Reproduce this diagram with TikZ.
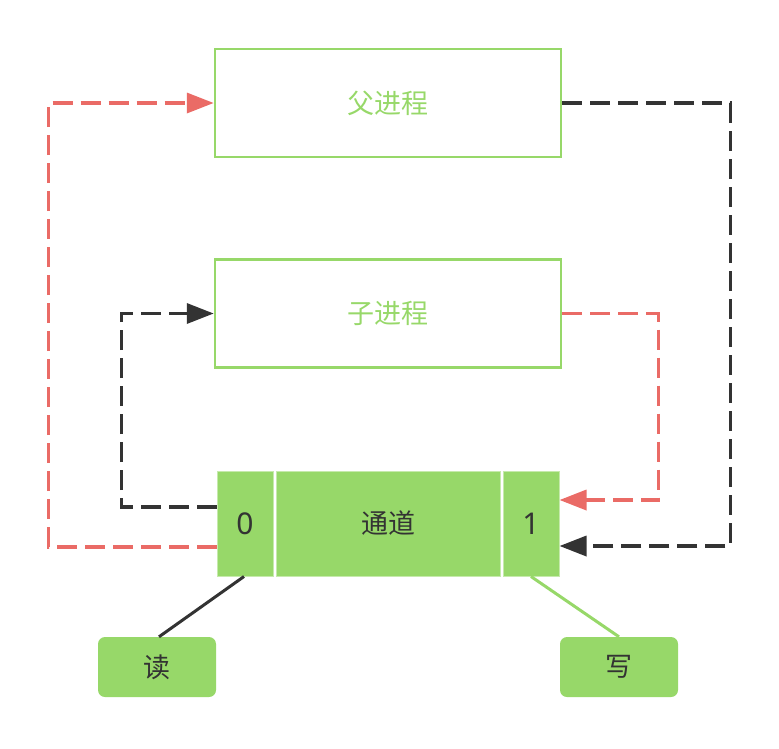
\documentclass[tikz,border=0pt]{standalone}
\usepackage{fontspec}
\setmainfont{Noto Sans}
\newfontfamily\cjk{Noto Sans CJK SC}
\usetikzlibrary{arrows.meta}
\definecolor{gr}{HTML}{97D869}
\definecolor{rd}{HTML}{EA6B66}
\definecolor{dk}{HTML}{333333}
\begin{document}
\begin{tikzpicture}[x=1pt,y=-1pt,
  proc/.style={draw=gr, line width=2.5pt, minimum width=346pt, minimum height=108pt, inner sep=0pt, text=gr, font=\cjk\fontsize{27}{30}\selectfont},
  cell/.style={fill=gr, draw=white!45!gr, line width=1pt, minimum height=105pt, inner sep=0pt, text=dk, font=\cjk\fontsize{27}{30}\selectfont},
  lab/.style={fill=gr, rounded corners=7pt, minimum width=118pt, minimum height=60pt, inner sep=0pt, text=dk, font=\cjk\fontsize{27}{30}\selectfont},
  conn/.style={line width=3.5pt, dash pattern=on 20pt off 8pt, -{Triangle[length=27pt,width=20pt]}},
]
\useasboundingbox (0,0) rectangle (779,748);
\node[proc] (parent) at (388,103) {父进程};
\node[proc] (child) at (388,313.5) {子进程};
\node[cell, minimum width=56pt] (c0) at (245,523.5) {\raisebox{-2pt}{\fontspec{Noto Sans}\fontsize{30}{32}\selectfont 0}};
\node[cell, minimum width=224pt] (mid) at (388,523.5) {\raisebox{-2pt}{通道}};
\node[cell, minimum width=56pt] (c1) at (531,523.5) {\raisebox{-2pt}{\fontspec{Noto Sans}\fontsize{30}{32}\selectfont 1}};
\node[lab] (read) at (157,667) {读};
\node[lab] (write) at (619,667) {写};
\draw[conn, rd] ([yshift=-23.5pt]c0.west) -- ++(-168,0) |- (parent.west);
\draw[conn, dk] (parent.east) -- ++(168,0) |- ([yshift=-22.5pt]c1.east);
\draw[conn, rd] (child.east) -- ++(96,0) |- ([yshift=23.5pt]c1.east);
\draw[conn, dk] ([yshift=16.5pt]c0.west) -- ++(-95,0) |- (child.west);
\draw[dk, line width=3pt] ([xshift=-1pt]c0.south) -- ([xshift=2pt]read.north);
\draw[gr, line width=3pt] (c1.south) -- (write.north);
\end{tikzpicture}
\end{document}
